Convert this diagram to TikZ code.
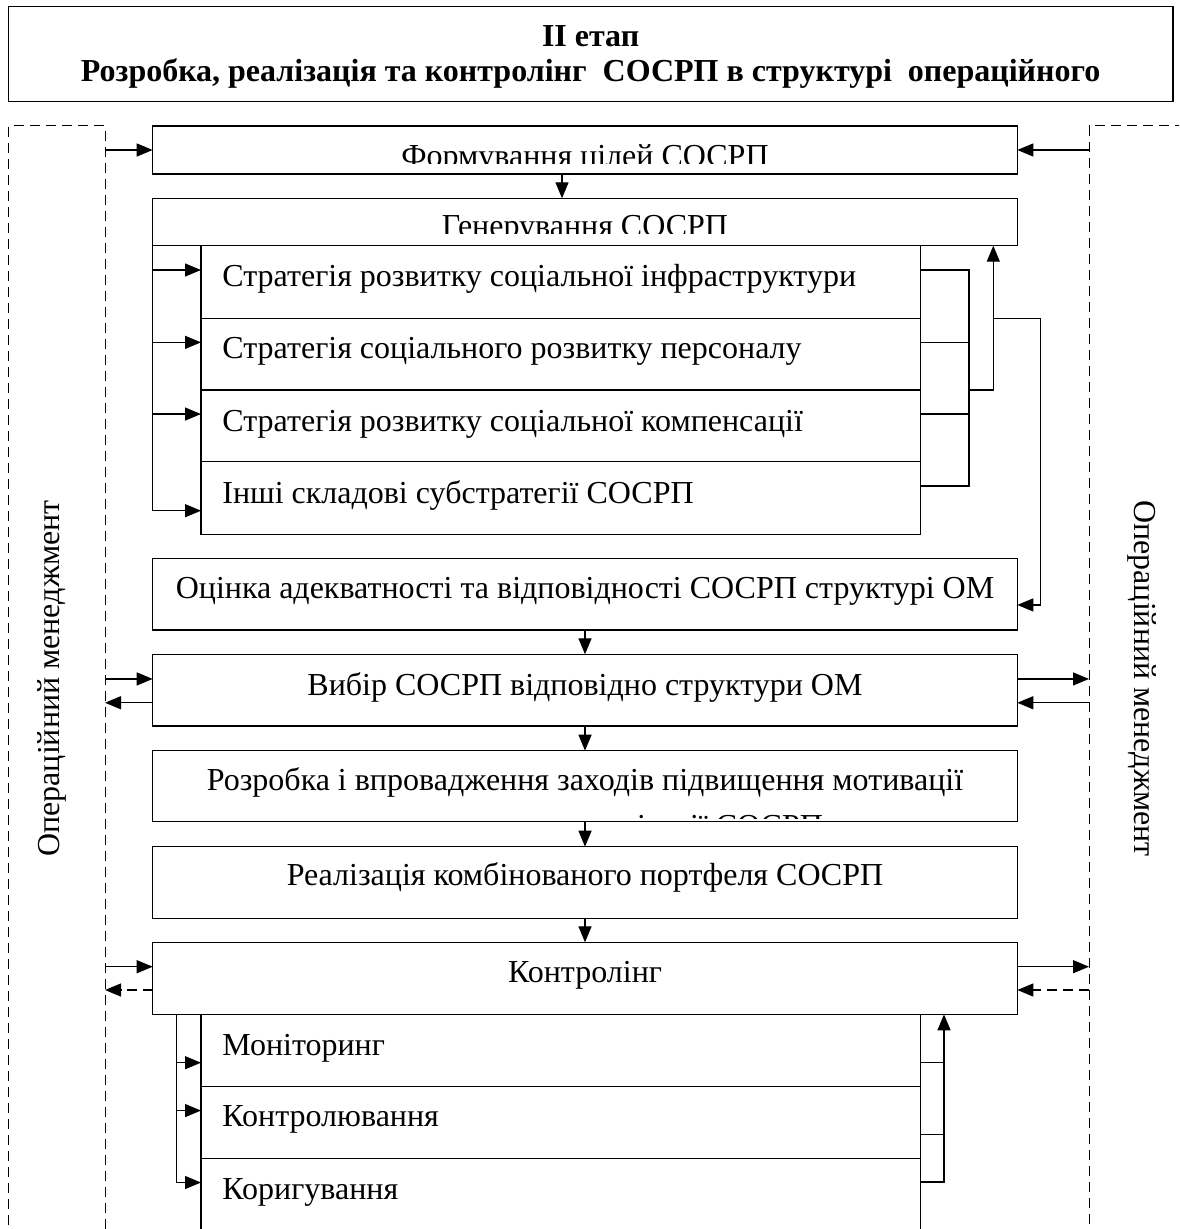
\documentclass[tikz,border=0pt]{standalone}
\usepackage{fontspec}
\setmainfont{Liberation Serif}
\usetikzlibrary{arrows.meta,calc}
\begin{document}
\begin{tikzpicture}[x=0.5pt,y=-0.5pt,line width=0.65pt,
  box/.style={draw, rectangle, line width=0.65pt, minimum width=432.3pt, inner sep=0pt, outer sep=0pt},
  sub/.style={draw, rectangle, line width=0.65pt, minimum width=359.85pt, inner sep=0pt, outer sep=0pt},
  dbox/.style={draw, rectangle, line width=0.5pt, dash pattern=on 5pt off 3pt, inner sep=0pt, outer sep=0pt},
  arr/.style={line width=0.65pt, -{Triangle[length=8pt,width=6.5pt]}},
  dline/.style={dash pattern=on 5pt off 3pt},
  txt/.style={font=\fontsize{16pt}{18pt}\selectfont, inner sep=0pt, anchor=base},
  txtl/.style={txt, anchor=base west}]
\useasboundingbox (0,0) rectangle (1179,1229);
\clip (0,0) rectangle (1179,1229);
% title
\node[draw, rectangle, line width=0.65pt, minimum width=582.35pt, minimum height=47.6pt, inner sep=0pt, outer sep=0pt] (title) at (590.65,54.1) {};
\node[txt] (tt1) at (590.65,46.7) {\bfseries II етап};
\node[txt] (tt2) at (590.65,81.7) {\bfseries Розробка, реалізація та контролінг\ \ СОСРП в структурі\ \ операційного};
% dashed side boxes
\node[dbox, minimum width=48.35pt, minimum height=567pt] (omL) at (56.65,693) {};
\node[dbox, minimum width=60.5pt, minimum height=567pt] (omR) at (1149.5,693) {};
\node[txt, rotate=90] (omLt) at (59,678.5) {Операційний менеджмент};
\node[txt, rotate=-90] (omRt) at (1134,678.5) {Операційний менеджмент};
% main boxes
\node[box, minimum height=24pt] (form) at (585,150) {};
\node[box, minimum height=23.7pt] (gen) at (585,222) {};
\node[sub, minimum height=36.3pt] (s1) at (560.85,282) {};
\node[sub, minimum height=35.85pt] (s2) at (560.85,354.15) {};
\node[sub, minimum height=35.85pt] (s3) at (560.85,425.85) {};
\node[sub, minimum height=36.3pt] (s4) at (560.85,498) {};
\node[box, minimum height=35.85pt] (ocin) at (585,594.15) {};
\node[box, minimum height=35.85pt] (vyb) at (585,690.15) {};
\node[box, minimum height=35.5pt] (rozr) at (585,786.2) {};
\node[box, minimum height=35.8pt] (real) at (585,882.5) {};
\node[box, minimum height=36pt] (kontr) at (585,978.3) {};
\node[sub, minimum height=36.2pt] (k1) at (560.85,1050.5) {};
\node[sub, minimum height=35.85pt] (k2) at (560.85,1122.55) {};
\node[sub, minimum height=40.8pt] (k3) at (560.85,1199.2) {};
% texts
\begin{scope}
\clip (form.north west) rectangle ([yshift=5pt]form.south east);
\node[txt] (formt) at (585,167) {Формування цілей СОСРП};
\end{scope}
\begin{scope}
\clip (gen.north west) rectangle ([yshift=5.85pt]gen.south east);
\node[txt] (gent) at (585,237) {Генерування СОСРП};
\end{scope}
\node[txtl] (s1t) at (221.7,286.7) {Стратегія розвитку соціальної інфраструктури};
\node[txtl] (s2t) at (221.7,358.3) {Стратегія соціального розвитку персоналу};
\node[txtl] (s3t) at (221.7,431.7) {Стратегія розвитку соціальної компенсації};
\node[txtl] (s4t) at (221.7,503.3) {Інші складові субстратегії СОСРП};
\node[txt] (ocint) at (585,598.3) {Оцінка адекватності та відповідності СОСРП структурі ОМ};
\node[txt] (vybt) at (585,695) {Вибір СОСРП відповідно структури ОМ};
\node[txt] (rozrt) at (585,790) {Розробка і впровадження заходів підвищення мотивації};
\begin{scope}
\clip (rozr.north west) rectangle ([yshift=1.85pt]rozr.south east);
\node[txt] (rozrt2) at (585,836) {персоналу щодо реалізації СОСРП};
\end{scope}
\node[txt] (realt) at (585,885) {Реалізація комбінованого портфеля СОСРП};
\node[txt] (kontrt) at (585,982) {Контролінг};
\node[txtl] (k1t) at (221.7,1055) {Моніторинг};
\node[txtl] (k2t) at (221.7,1126) {Контролювання};
\node[txtl] (k3t) at (221.7,1199.5) {Коригування};
% routing coordinates
\coordinate (xb) at (969,0);
\coordinate (xu) at (993.3,0);
\coordinate (xo) at (1040.7,0);
\coordinate (xl) at (176.7,0);
\coordinate (xk) at (944,0);
% top arrows
\draw[arr] (omL.east |- form.west) -- (form.west);
\draw[arr] (omR.west |- form.east) -- (form.east);
\draw[arr] ([xshift=-11.5pt]form.south) -- ([xshift=-11.5pt]gen.north);
% left bus of strategies
\coordinate (a1) at ([yshift=6pt]s1.west);
\coordinate (a2) at ([yshift=5.9pt]s2.west);
\coordinate (a3) at ([yshift=5.9pt]s3.west);
\coordinate (a4) at ([yshift=-6.35pt]s4.west);
\draw[arr] (gen.south west) |- (a4);
\draw[arr] (gen.south west |- a1) -- (a1);
\draw[arr] (gen.south west |- a2) -- (a2);
\draw[arr] (gen.south west |- a3) -- (a3);
% right bus of strategies
\coordinate (b1) at ([yshift=6pt]s1.east);
\coordinate (b2) at ([yshift=5.9pt]s2.east);
\coordinate (b3) at ([yshift=5.9pt]s3.east);
\coordinate (b4) at ([yshift=6pt]s4.east);
\draw (b1) -- (xb |- b1) -- (xb |- b4) -- (b4);
\draw (b2) -- (xb |- b2);
\draw (b3) -- (xb |- b3);
\draw[arr] (xb |- s3.north) -| (xu |- gen.south);
\coordinate (oc) at ([yshift=-5.4pt]ocin.east);
\draw[arr] (xu |- s2.north) -| (xo |- oc) -- (oc);
% vertical chain
\draw[arr] (ocin.south) -- (vyb.north);
\draw[arr] (vyb.south) -- (rozr.north);
\draw[arr] (rozr.south) -- (real.north);
\draw[arr] (real.south) -- (kontr.north);
% Vybir side arrows
\coordinate (vl1) at ([yshift=5.6pt]vyb.west);
\coordinate (vl2) at ([yshift=-6.3pt]vyb.west);
\coordinate (vr1) at ([yshift=5.6pt]vyb.east);
\coordinate (vr2) at ([yshift=-6.3pt]vyb.east);
\draw[arr] (omL.east |- vl1) -- (vl1);
\draw[arr] (vl2) -- (omL.east |- vl2);
\draw[arr] (vr1) -- (omR.west |- vr1);
\draw[arr] (omR.west |- vr2) -- (vr2);
% Kontroling side arrows
\coordinate (kl1) at ([yshift=5.8pt]kontr.west);
\coordinate (kl2) at ([yshift=-5.85pt]kontr.west);
\coordinate (kr1) at ([yshift=5.8pt]kontr.east);
\coordinate (kr2) at ([yshift=-5.85pt]kontr.east);
\draw[arr] (omL.east |- kl1) -- (kl1);
\draw[arr, dline] (kl2) -- (omL.east |- kl2);
\draw[arr] (kr1) -- (omR.west |- kr1);
\draw[arr, dline] (omR.west |- kr2) -- (kr2);
% Kontroling sub-boxes
\coordinate (m1) at ([yshift=-6.1pt]k1.west);
\coordinate (m2) at ([yshift=6pt]k2.west);
\coordinate (m3) at ([yshift=-12.05pt]k3.north west);
\draw[arr] (xl |- kontr.south) |- (m3);
\draw[arr] (xl |- m1) -- (m1);
\draw[arr] (xl |- m2) -- (m2);
\coordinate (n1) at ([yshift=-6.1pt]k1.east);
\coordinate (n2) at ([yshift=-6.1pt]k2.east);
\coordinate (n3) at ([yshift=-11.8pt]k3.north east);
\draw[arr] (n3) -| (xk |- kontr.south);
\draw (n1) -- (xk |- n1);
\draw (n2) -- (xk |- n2);
\end{tikzpicture}
\end{document}
